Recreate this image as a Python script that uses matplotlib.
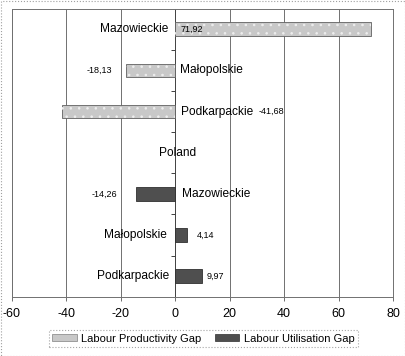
import numpy as np
import matplotlib
matplotlib.use("Agg")
import matplotlib.pyplot as plt
from matplotlib.patches import Rectangle, Patch
from matplotlib.transforms import offset_copy

plt.rcParams['font.family'] = ['Liberation Sans', 'DejaVu Sans']
plt.rcParams['hatch.linewidth'] = 0.6

# ---- data ----
categories = ['Mazowieckie', 'Małopolskie', 'Podkarpackie', 'Poland',
              'Mazowieckie', 'Małopolskie', 'Podkarpackie']
productivity_gap = [71.92, -18.13, -41.68, np.nan, np.nan, np.nan, np.nan]
utilisation_gap = [np.nan, np.nan, np.nan, np.nan, -14.26, 4.14, 9.97]
productivity_labels = ['71,92', '-18,13', '-41,68']
utilisation_labels = ['-14,26', '4,14', '9,97']
xticks = [-60, -40, -20, 0, 20, 40, 60, 80]
series_names = ['Labour Productivity Gap', 'Labour Utilisation Gap']

W, H = 406, 356
fig = plt.figure(figsize=(W / 100, H / 100), dpi=100)
ax = fig.add_axes([12 / W, 1 - 296.7 / H, (393 - 12) / W, (296.7 - 8.7) / H])

y = np.arange(len(categories))
light = '#c8c8c8'
dark = '#4f4f4f'

ax.barh(y, productivity_gap, height=0.33, color=light, edgecolor='#606060',
        linewidth=0.6, zorder=3)
ax.barh(y, productivity_gap, height=0.33, color='none', edgecolor='#eeeeee',
        hatch='..', linewidth=0, zorder=3.5)
ax.barh(y, utilisation_gap, height=0.33, color=dark, edgecolor='#303030',
        linewidth=0.6, zorder=3)

ax.set_xlim(-60, 80)
ax.set_ylim(len(categories) - 0.5, -0.5)
ax.set_xticks(xticks)
ax.set_xticklabels([str(t) for t in xticks], fontsize=9)
ax.set_yticks([])
ax.tick_params(axis='x', length=3, width=0.6, color='#555555', pad=5)
for v in xticks:
    ax.axvline(v, color='#707070' if v != 0 else '#404040', lw=0.7, zorder=1)
for s in ax.spines.values():
    s.set_color('#707070')
    s.set_linewidth(0.7)
# small category-boundary ticks on the zero axis
ax.hlines(np.arange(0.5, len(categories) - 1, 1.0), -1.5, 0, color='#404040',
          lw=0.7, zorder=2)

def txt(x, yy, s, dx, ha, size):
    tr = offset_copy(ax.transData, fig=fig, x=dx * 72 / 100, y=0, units='points')
    ax.text(x, yy, s, transform=tr, ha=ha, va='center', fontsize=size, zorder=5)

# category labels
cat_place = [(-7, 'right'), (5, 'left'), (6, 'left'), (2, 'center'),
             (7, 'left'), (-8, 'right'), (-6, 'right')]
for i, (name, (dx, ha)) in enumerate(zip(categories, cat_place)):
    txt(0, i, name, dx, ha, 8.6)

# value labels
prod_place = [(0, 5, 'left'), (None, -14, 'right'), (0, 83, 'left')]
for i, (lab, (anc, dx, ha)) in enumerate(zip(productivity_labels, prod_place)):
    x = productivity_gap[i] if anc is None else anc
    txt(x, i, lab, dx, ha, 6.5)
util_place = [(-19, 'right'), (10, 'left'), (4, 'left')]
for j, (lab, (dx, ha)) in enumerate(zip(utilisation_labels, util_place)):
    i = 4 + j
    txt(utilisation_gap[i], i, lab, dx, ha, 6.5)

# legend
handles = [Patch(facecolor=light, edgecolor='#808080', lw=0.5),
           Patch(facecolor=dark, edgecolor='#303030', lw=0.5)]
leg = fig.legend(handles, series_names, loc='center',
                 bbox_to_anchor=(203.5 / W, 1 - 338.5 / H), ncol=2,
                 fontsize=8, frameon=True, fancybox=False,
                 handlelength=2.2, handleheight=0.6, handletextpad=0.4,
                 columnspacing=1.2, borderpad=0.35)
fr = leg.get_frame()
fr.set_edgecolor('#909090')
fr.set_linestyle(':')
fr.set_linewidth(0.8)

# figure border
fig.patches.append(Rectangle((0.5 / W, 0.5 / H), 1 - 1 / W, 1 - 1 / H,
                             transform=fig.transFigure, fill=False,
                             edgecolor='#a0a0a0', lw=0.8, ls=':'))

fig.savefig('out.png', dpi=100)
